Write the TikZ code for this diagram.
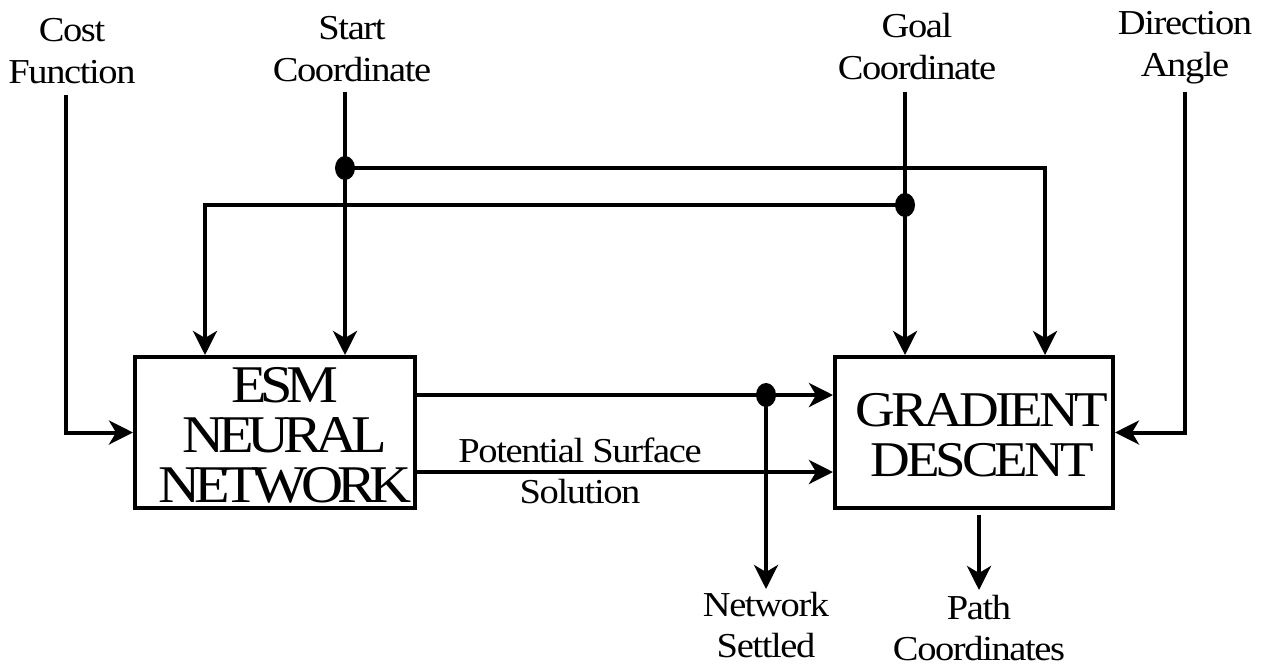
\documentclass[tikz,border=0pt]{standalone}
\usepackage{fontspec}
\setmainfont{Liberation Serif}[FakeStretch=1.1]
\usetikzlibrary{arrows.meta}
\begin{document}
\begin{tikzpicture}[x=1pt,y=-1pt,
  wire/.style={line width=4pt},
  arr/.style={wire,-{Stealth[length=24pt,width=24pt,inset=7pt]}},
  lbl/.style={align=center,inner sep=0pt,font=\fontsize{35}{41.5}\selectfont\addfontfeatures{LetterSpace=-4}},
  box/.style={draw,line width=4pt,minimum width=280pt,minimum height=151pt,inner sep=0pt}]
\useasboundingbox (0,0) rectangle (1263,667);
% labels
\node[lbl,anchor=south] (cost) at (72,84) {Cost\\Function};
\node[lbl,anchor=south] (start) at (352,82) {Start\\Coordinate};
\node[lbl,anchor=south] (goal) at (917,80) {Goal\\Coordinate};
\node[lbl,anchor=south] (dir) at (1185,84) {Direction\\Angle};
\node[lbl,anchor=north] (netset) at (766,592) {Network\\Settled};
\node[lbl,anchor=north] (path) at (979,595) {Path\\Coordinates};
\node[lbl] (pss) at (580,471) {Potential Surface\\Solution};
% boxes
\node[box] (esm) at (275,432.5) {\hspace*{20pt}\raisebox{-16pt}[0pt][0pt]{\fontsize{53}{49.5}\selectfont\addfontfeatures{LetterSpace=-12}\setlength{\tabcolsep}{0pt}\begin{tabular}{c}ESM\\NEURAL\\NETWORK\end{tabular}}};
\node[box,minimum width=278pt] (gd) at (974,432.5) {\hspace*{16pt}\raisebox{-15pt}[0pt][0pt]{\fontsize{50}{50}\selectfont\addfontfeatures{LetterSpace=-8}\setlength{\tabcolsep}{0pt}\begin{tabular}{c}GRADIENT\\DESCENT\end{tabular}}};
% junctions
\coordinate (d1) at (345,168);
\coordinate (d2) at (905,205);
\coordinate (d3) at (766,395);
% connectors
\draw[arr] ([xshift=-6pt,yshift=-11pt]cost.south) |- (esm.west);
\draw[arr] ([xshift=-7pt,yshift=-10pt]start.south) -- ([xshift=70pt]esm.north);
\draw[arr] ([xshift=-12pt,yshift=-12pt]goal.south) -- ([xshift=-69pt]gd.north);
\draw[arr] ([yshift=-8pt]dir.south) |- (gd.east);
\draw[arr] (d1) -| ([xshift=71pt]gd.north);
\draw[arr] (d2) -| ([xshift=-70pt]esm.north);
\draw[arr] ([yshift=37.5pt]esm.east) -- ([yshift=37.5pt]gd.west);
\draw[arr] ([yshift=-39.5pt]esm.east) -- ([yshift=-39.5pt]gd.west);
\draw[arr] (d3) -- ([yshift=3pt]netset.north);
\draw[arr] ([xshift=5pt,yshift=-5pt]gd.south) -- ([yshift=5pt]path.north);
\fill (d1) ellipse (10pt and 12pt);
\fill (d2) ellipse (10pt and 12pt);
\fill (d3) ellipse (10pt and 12pt);
\end{tikzpicture}
\end{document}
